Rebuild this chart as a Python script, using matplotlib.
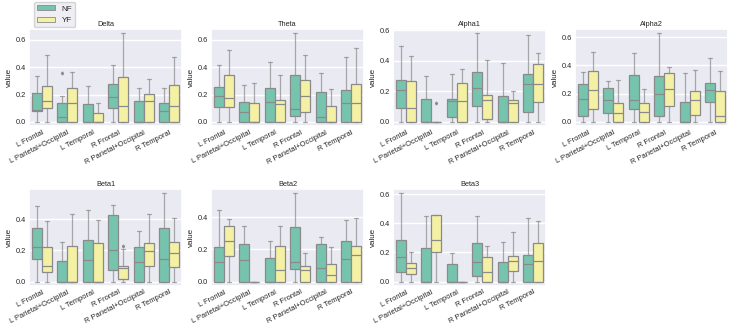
import matplotlib
matplotlib.use("Agg")
import matplotlib.pyplot as plt
from matplotlib.patches import Patch
import seaborn as sns

bands = ["Delta", "Theta", "Alpha1", "Alpha2", "Beta1", "Beta2", "Beta3"]
regions = ["L Frontal", "L Parietal+Occipital", "L Temporal",
           "R Frontal", "R Parietal+Occipital", "R Temporal"]
groups = ["NF", "YF"]

# NF box statistics (rows: bands, cols: regions)
nf_lo = [[0.0] * 6 for _ in bands]
nf_q1 = [[0.077, 0, 0, 0.099, 0, 0],
         [0.106, 0, 0, 0.041, 0, 0],
         [0.093, 0, 0.035, 0.104, 0, 0.065],
         [0.040, 0.066, 0.089, 0.040, 0, 0.138],
         [0.143, 0, 0, 0.075, 0, 0],
         [0, 0, 0, 0.077, 0, 0],
         [0.066, 0, 0, 0.037, 0, 0]]
nf_med = [[0.090, 0.034, 0, 0.184, 0, 0.080],
          [0.186, 0.070, 0.143, 0.094, 0.036, 0.135],
          [0.210, 0, 0.134, 0.225, 0, 0.249],
          [0.162, 0.152, 0.152, 0.200, 0, 0.225],
          [0.222, 0, 0.139, 0.203, 0.126, 0.145],
          [0.122, 0.135, 0, 0.122, 0.085, 0.141],
          [0.169, 0, 0, 0.135, 0, 0.123]]
nf_q3 = [[0.210, 0.141, 0.129, 0.280, 0.152, 0.135],
         [0.252, 0.143, 0.244, 0.339, 0.222, 0.235],
         [0.273, 0.147, 0.152, 0.325, 0.171, 0.316],
         [0.270, 0.237, 0.335, 0.326, 0.143, 0.272],
         [0.344, 0.133, 0.267, 0.430, 0.222, 0.344],
         [0.216, 0.232, 0.147, 0.342, 0.232, 0.253],
         [0.285, 0.231, 0.121, 0.263, 0.135, 0.183]]
nf_hi = [[0.337, 0.188, 0.260, 0.416, 0.247, 0.247],
         [0.416, 0.271, 0.435, 0.646, 0.355, 0.476],
         [0.494, 0.301, 0.314, 0.579, 0.386, 0.568],
         [0.354, 0.293, 0.485, 0.626, 0.347, 0.452],
         [0.488, 0.255, 0.460, 0.492, 0.323, 0.569],
         [0.446, 0.346, 0.253, 0.551, 0.278, 0.383],
         [0.607, 0.450, 0.199, 0.450, 0.272, 0.436]]

# YF box statistics
yf_lo = [[0.0] * 6 for _ in bands]
yf_q1 = [[0.098, 0, 0, 0, 0, 0],
         [0.106, 0, 0, 0.070, 0, 0],
         [0, 0, 0, 0.017, 0, 0.130],
         [0.089, 0, 0, 0.115, 0.047, 0],
         [0.064, 0, 0, 0.019, 0.098, 0.094],
         [0.160, 0, 0, 0, 0, 0],
         [0.053, 0.200, 0, 0, 0.075, 0]]
yf_med = [[0.156, 0.141, 0, 0.116, 0.152, 0.118],
          [0.177, 0, 0.130, 0.186, 0, 0.135],
          [0.093, 0, 0.134, 0.141, 0.126, 0.249],
          [0.223, 0.061, 0.068, 0.232, 0.157, 0.045],
          [0.100, 0, 0, 0.086, 0.197, 0.184],
          [0.253, 0, 0.073, 0.073, 0.041, 0.166],
          [0.091, 0.288, 0, 0.068, 0.144, 0.144]]
yf_q3 = [[0.260, 0.244, 0.068, 0.331, 0.203, 0.271],
         [0.339, 0.135, 0.160, 0.305, 0.118, 0.280],
         [0.269, 0, 0.253, 0.176, 0.143, 0.377],
         [0.363, 0.136, 0.131, 0.349, 0.218, 0.218],
         [0.222, 0.229, 0.250, 0.103, 0.248, 0.255],
         [0.344, 0, 0.222, 0.095, 0.108, 0.222],
         [0.128, 0.457, 0, 0.169, 0.176, 0.267]]
yf_hi = [[0.490, 0.361, 0.137, 0.646, 0.310, 0.476],
         [0.525, 0.283, 0.346, 0.490, 0.242, 0.542],
         [0.429, 0, 0.347, 0.405, 0.200, 0.451],
         [0.494, 0.300, 0.232, 0.391, 0.370, 0.363],
         [0.389, 0.434, 0.396, 0.210, 0.432, 0.409],
         [0.388, 0, 0.346, 0.180, 0.216, 0.396],
         [0.203, 0.457, 0, 0.242, 0.342, 0.416]]

# outliers
flier_band = ["Delta", "Alpha1", "Beta1"]
flier_region = ["L Parietal+Occipital", "L Parietal+Occipital", "R Frontal"]
flier_group = ["NF", "YF", "YF"]
flier_value = [0.354, 0.126, 0.231]

colors = {"NF": "#76c4ae", "YF": "#f4f1a4"}
line_col = "#8a8a8a"

sns.set_theme(style="darkgrid")
plt.rcParams["font.family"] = ["Liberation Sans", "DejaVu Sans"]

fig, axes = plt.subplots(2, 4, figsize=(7.31, 3.33), dpi=100)
fig.subplots_adjust(left=29/731, right=728/731, top=1-29/333, bottom=1-286/333,
                    wspace=0.19, hspace=0.64)
axes = axes.ravel()

stats_by_group = {
    "NF": (nf_lo, nf_q1, nf_med, nf_q3, nf_hi),
    "YF": (yf_lo, yf_q1, yf_med, yf_q3, yf_hi),
}
offsets = {"NF": -0.2, "YF": 0.2}

for bi, band in enumerate(bands):
    ax = axes[bi]
    for g in groups:
        lo, q1, med, q3, hi = stats_by_group[g]
        stats = []
        positions = []
        for ri, reg in enumerate(regions):
            fl = [v for b, r, gg, v in zip(flier_band, flier_region, flier_group, flier_value)
                  if b == band and r == reg and gg == g]
            stats.append(dict(whislo=lo[bi][ri], q1=q1[bi][ri], med=med[bi][ri],
                              q3=q3[bi][ri], whishi=hi[bi][ri], fliers=fl))
            positions.append(ri + offsets[g])
        ax.bxp(stats, positions=positions, widths=0.4, capwidths=0.15,
               patch_artist=True, manage_ticks=False,
               boxprops=dict(facecolor=colors[g], edgecolor=line_col, linewidth=0.9),
               medianprops=dict(color=line_col, linewidth=0.9),
               whiskerprops=dict(color=line_col, linewidth=0.9, alpha=0.7),
               capprops=dict(color=line_col, linewidth=0.9, alpha=0.7),
               flierprops=dict(marker="d", markersize=1.5, markerfacecolor=line_col,
                               markeredgecolor=line_col))
    ax.set_xlim(-0.5, len(regions) - 0.5)
    ax.set_xticks(range(len(regions)))
    ax.set_xticklabels(regions, rotation=27, ha="right", rotation_mode="anchor",
                       fontsize=5.4)
    ax.grid(axis="x", visible=False)
    ax.tick_params(axis="y", labelsize=5.3, length=0, pad=2)
    ax.tick_params(axis="x", length=0, pad=2)
    ax.set_ylabel("value", fontsize=5.8)
    ax.yaxis.set_label_coords(-0.102, 0.5)
    ax.set_title(band, fontsize=5.3, pad=2)
    ax.yaxis.set_major_locator(matplotlib.ticker.MultipleLocator(0.2))

axes[7].remove()

handles = [Patch(facecolor=colors[g], edgecolor=line_col, linewidth=0.6, label=g)
           for g in groups]
fig.legend(handles=handles, loc="upper left", bbox_to_anchor=(34/731, 1 - 2/333),
           fontsize=5.8, borderaxespad=0, handlelength=2.2, handleheight=0.6,
           labelspacing=0.5, frameon=True)

fig.savefig("out.png", dpi=100)
